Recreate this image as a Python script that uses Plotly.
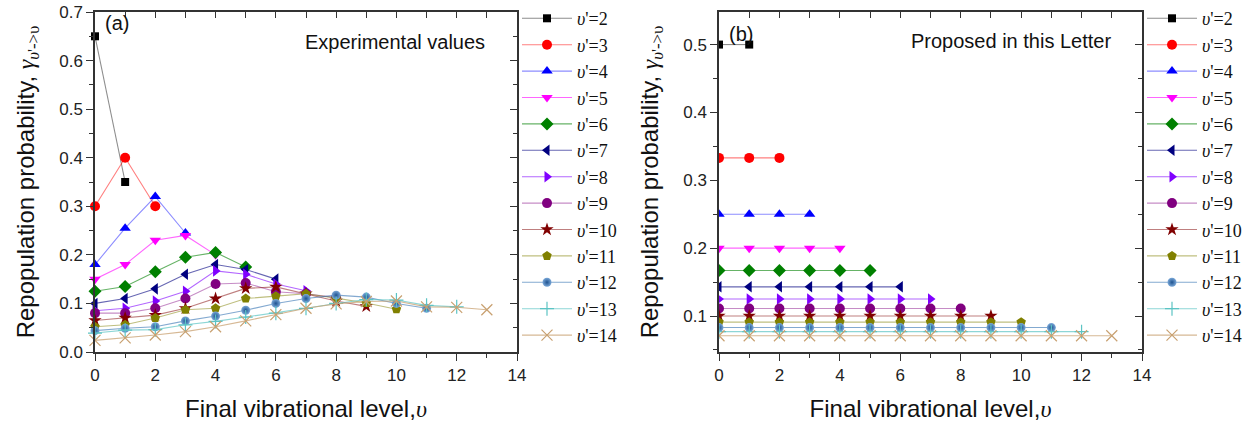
import plotly.graph_objects as go

# Final vibrational level index
levels = list(range(14))

# Experimental repopulation probabilities, one list per initial level v'
exp_2 = [0.65, 0.35]
exp_3 = [0.30, 0.40, 0.30]
exp_4 = [0.18, 0.255, 0.32, 0.245]
exp_5 = [0.15, 0.18, 0.23, 0.24, 0.20]
exp_6 = [0.125, 0.135, 0.165, 0.195, 0.205, 0.175]
exp_7 = [0.10, 0.11, 0.13, 0.16, 0.18, 0.17, 0.15]
exp_8 = [0.085, 0.09, 0.105, 0.125, 0.167, 0.16, 0.14, 0.126]
exp_9 = [0.08, 0.08, 0.09, 0.11, 0.14, 0.142, 0.124, 0.12, 0.112]
exp_10 = [0.065, 0.07, 0.076, 0.09, 0.11, 0.131, 0.134, 0.12, 0.105, 0.094]
exp_11 = [0.052, 0.056, 0.07, 0.087, 0.09, 0.11, 0.115, 0.12, 0.111, 0.101, 0.088]
exp_12 = [0.044, 0.049, 0.052, 0.064, 0.074, 0.086, 0.10, 0.11, 0.117, 0.113, 0.10, 0.09]
exp_13 = [0.039, 0.045, 0.046, 0.056, 0.063, 0.072, 0.08, 0.09, 0.10, 0.108, 0.107,
          0.096, 0.093]
exp_14 = [0.024, 0.029, 0.035, 0.042, 0.052, 0.064, 0.077, 0.09, 0.099, 0.104, 0.105,
          0.093, 0.092, 0.087]

# Proposed (uniform) repopulation probabilities
prop_2 = [0.5, 0.5]
prop_3 = [0.333, 0.333, 0.333]
prop_4 = [0.25, 0.25, 0.25, 0.25]
prop_5 = [0.2, 0.2, 0.2, 0.2, 0.2]
prop_6 = [0.167, 0.167, 0.167, 0.167, 0.167, 0.167]
prop_7 = [0.143, 0.143, 0.143, 0.143, 0.143, 0.143, 0.143]
prop_8 = [0.125, 0.125, 0.125, 0.125, 0.125, 0.125, 0.125, 0.125]
prop_9 = [0.111, 0.111, 0.111, 0.111, 0.111, 0.111, 0.111, 0.111, 0.111]
prop_10 = [0.1, 0.1, 0.1, 0.1, 0.1, 0.1, 0.1, 0.1, 0.1, 0.1]
prop_11 = [0.091, 0.091, 0.091, 0.091, 0.091, 0.091, 0.091, 0.091, 0.091, 0.091, 0.091]
prop_12 = [0.083, 0.083, 0.083, 0.083, 0.083, 0.083, 0.083, 0.083, 0.083, 0.083, 0.083,
           0.083]
prop_13 = [0.077, 0.077, 0.077, 0.077, 0.077, 0.077, 0.077, 0.077, 0.077, 0.077, 0.077,
           0.077, 0.077]
prop_14 = [0.071, 0.071, 0.071, 0.071, 0.071, 0.071, 0.071, 0.071, 0.071, 0.071, 0.071,
           0.071, 0.071, 0.071]

initial_levels = [2, 3, 4, 5, 6, 7, 8, 9, 10, 11, 12, 13, 14]
experimental = [exp_2, exp_3, exp_4, exp_5, exp_6, exp_7, exp_8, exp_9, exp_10,
                exp_11, exp_12, exp_13, exp_14]
proposed = [prop_2, prop_3, prop_4, prop_5, prop_6, prop_7, prop_8, prop_9, prop_10,
            prop_11, prop_12, prop_13, prop_14]

# Origin-like series styles: (marker colour, line colour, symbol, size)
styles = [
    ("#000000", "rgba(0,0,0,0.45)", "square", 8),
    ("#FF0000", "rgba(255,0,0,0.5)", "circle", 10),
    ("#0000FF", "rgba(0,0,255,0.45)", "triangle-up", 10),
    ("#FF00FF", "rgba(255,0,255,0.6)", "triangle-down", 10),
    ("#008000", "rgba(0,128,0,0.6)", "diamond", 10),
    ("#000080", "rgba(0,0,128,0.6)", "triangle-left", 10),
    ("#8000FF", "rgba(128,0,255,0.6)", "triangle-right", 10),
    ("#800080", "rgba(128,0,128,0.45)", "circle", 10),
    ("#800000", "rgba(128,0,0,0.5)", "star", 10),
    ("#808000", "rgba(128,128,0,0.5)", "pentagon", 10),
    ("#2E6AAE", "rgba(48,112,176,0.6)", "circle", 9),
    ("#5CC4C4", "rgba(92,196,196,0.7)", "cross-thin", 10),
    ("#C8A070", "rgba(200,160,112,0.75)", "x-thin", 11),
]

fig = go.Figure()

def add_series(values, vp, style, xa, ya, legend, clip):
    mcol, lcol, sym, size = style
    marker = dict(color=mcol, symbol=sym, size=size, line=dict(width=0))
    if sym.endswith("-thin"):
        marker["line"] = dict(width=1.2, color=mcol)
    if vp == 12:
        # shaded sphere look
        marker["color"] = "#7AA8D8"
        marker["gradient"] = dict(type="radial", color="#1E5290")
    fig.add_trace(go.Scatter(
        x=levels[:len(values)], y=values, mode="lines+markers",
        name="<i>\u03c5</i>'=%d" % vp,
        line=dict(color=lcol, width=1.1), marker=marker,
        xaxis=xa, yaxis=ya, legend=legend, cliponaxis=clip,
    ))

for vp, vals, st in zip(initial_levels, experimental, styles):
    add_series(vals, vp, st, "x", "y", "legend", False)
for vp, vals, st in zip(initial_levels, proposed, styles):
    add_series(vals, vp, st, "x2", "y2", "legend2", True)

# empty traces so the mirrored (top/right) axes are rendered
for xa, ya in [("x3", "y"), ("x", "y3"), ("x4", "y2"), ("x2", "y4")]:
    fig.add_trace(go.Scatter(x=[], y=[], xaxis=xa, yaxis=ya, showlegend=False,
                             hoverinfo="skip"))

W, H = 1258, 429
dom_a = [95 / W, 517 / W]
dom_b = [719 / W, 1142 / W]

axis_col = "#333333"
tick_font = dict(family="Liberation Sans, Arial, sans-serif", size=17, color="#222222")
title_font = dict(family="Liberation Sans, Arial, sans-serif", size=24, color="#111111")
note_font = dict(family="Liberation Sans, Arial, sans-serif", size=20, color="#111111")

serif = "font-family:'Liberation Serif','Times New Roman',serif"
x_title = "Final vibrational level,<span style=\"%s\"><i>\u03c5</i></span>" % serif
y_title = ("Repopulation probability, <span style=\"%s\"><i>\u03b3</i>"
           "<sub><i>\u03c5</i>'->\u03c5</sub></span>" % serif)

def base_x(domain, anchor):
    return dict(domain=domain, anchor=anchor, range=[0, 14], dtick=2, tick0=0,
                ticks="outside", ticklen=7, tickwidth=1.3, tickcolor=axis_col,
                minor=dict(dtick=1, ticks="outside", ticklen=4, tickcolor=axis_col,
                           tickwidth=1.2),
                showline=True, linecolor=axis_col, linewidth=1.5, showgrid=False,
                zeroline=False, tickfont=tick_font,
                title=dict(text=x_title, font=title_font, standoff=16),
                automargin=False)

def base_y(rng, anchor, dtick, fmt):
    return dict(range=rng, anchor=anchor, dtick=dtick, tick0=0, tickformat=fmt,
                ticks="outside", ticklen=7, tickwidth=1.3, tickcolor=axis_col,
                minor=dict(dtick=dtick / 2, ticks="outside", ticklen=4,
                           tickcolor=axis_col, tickwidth=1.2),
                showline=True, linecolor=axis_col, linewidth=1.5, showgrid=False,
                zeroline=False, tickfont=tick_font,
                title=dict(text=y_title, font=title_font, standoff=18),
                automargin=False)

def mirror_x(over, anchor):
    return dict(overlaying=over, anchor=anchor, side="top", range=[0, 14], dtick=2,
                tick0=0, ticks="inside", ticklen=6, tickwidth=1.3, tickcolor=axis_col,
                minor=dict(dtick=1, ticks="inside", ticklen=6, tickcolor=axis_col,
                           tickwidth=1.2),
                showline=True, linecolor=axis_col, linewidth=1.5, showgrid=False,
                zeroline=False, showticklabels=False)

def mirror_y(over, anchor, rng, dtick):
    return dict(overlaying=over, anchor=anchor, side="right", range=rng, dtick=dtick,
                tick0=0, ticks="inside", ticklen=7, tickwidth=1.3, tickcolor=axis_col,
                minor=dict(dtick=dtick / 2, ticks="inside", ticklen=4,
                           tickcolor=axis_col, tickwidth=1.2),
                showline=True, linecolor=axis_col, linewidth=1.5, showgrid=False,
                zeroline=False, showticklabels=False)

range_a = [0, 0.7]
range_b = [0.047, 0.548]

legend_common = dict(font=dict(family="Liberation Serif, Times New Roman, serif",
                               size=18, color="#111111"),
                     bgcolor="rgba(0,0,0,0)", borderwidth=0, xanchor="left",
                     yanchor="top", y=1.035, traceorder="normal", itemwidth=50,
                     maxheight=425)

fig.update_layout(
    width=W, height=H, margin=dict(l=0, r=0, t=9, b=77),
    paper_bgcolor="white", plot_bgcolor="white",
    showlegend=True,
    xaxis=base_x(dom_a, "y"),
    yaxis=base_y(range_a, "x", 0.1, ".1f"),
    xaxis2=base_x(dom_b, "y2"),
    yaxis2=base_y(range_b, "x2", 0.1, ".1f"),
    xaxis3=mirror_x("x", "y"),
    yaxis3=mirror_y("y", "x", range_a, 0.1),
    xaxis4=mirror_x("x2", "y2"),
    yaxis4=mirror_y("y2", "x2", range_b, 0.1),
    legend=dict(x=517 / W, **legend_common),
    legend2=dict(x=1142 / W, **legend_common),
    annotations=[
        dict(text="(a)", x=0.25, y=0.678, xref="x", yref="y", xanchor="left",
             yanchor="middle", showarrow=False, font=note_font),
        dict(text="Experimental values", x=13.0, y=0.638, xref="x", yref="y",
             xanchor="right", yanchor="middle", showarrow=False, font=note_font),
        dict(text="(b)", x=0.25, y=0.516, xref="x2", yref="y2", xanchor="left",
             yanchor="middle", showarrow=False, font=note_font),
        dict(text="Proposed in this Letter", x=13.05, y=0.506, xref="x2", yref="y2",
             xanchor="right", yanchor="middle", showarrow=False, font=note_font),
    ],
)

fig.write_html("out.html")
